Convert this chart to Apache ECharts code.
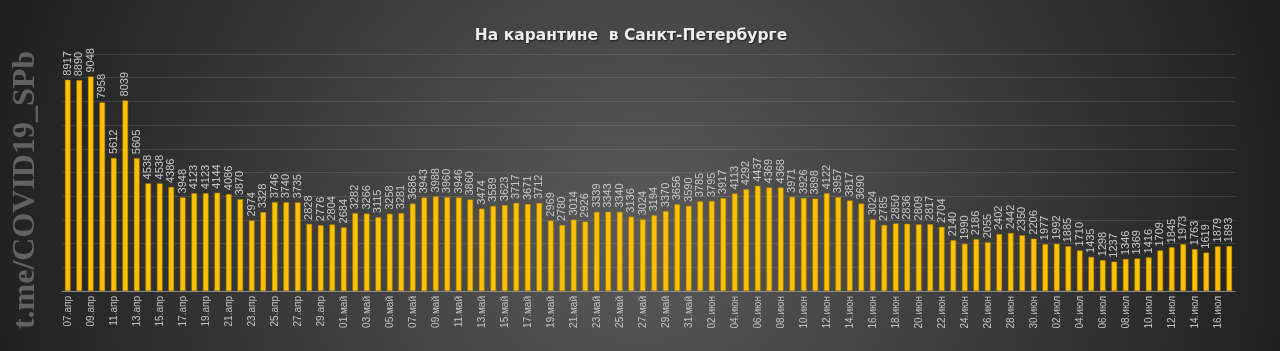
<!DOCTYPE html>
<html>
<head>
<meta charset="utf-8">
<script src="https://cdn.jsdelivr.net/npm/echarts@6/dist/echarts.min.js"></script>
<style>
  html, body { margin: 0; padding: 0; background: #2a2a2a; }
  #chart-container { width: 1280px; height: 351px; }
</style>
</head>
<body>
<div id="chart-container"></div>
<script>
var dom = document.getElementById('chart-container');
var myChart = echarts.init(dom, null, { renderer: 'canvas' });

var title = 'На карантине  в Санкт-Петербурге';
var watermark = 't.me/COVID19_SPb';

// months: [short name, first day, last day]
var months = [
    ['апр', 7, 30],
    ['май', 1, 31],
    ['июн', 1, 30],
    ['июл', 1, 17]
];

var aprValues = [8917, 8890, 9048, 7958, 5612, 8039, 5605, 4538, 4538, 4386, 3948, 4123,
    4123, 4144, 4086, 3870, 2974, 3328, 3746, 3740, 3735, 2828, 2776, 2804];
var mayValues = [2684, 3282, 3266, 3115, 3258, 3281, 3686, 3943, 3988, 3960, 3946, 3860,
    3474, 3589, 3623, 3717, 3671, 3712, 2969, 2780, 3014, 2926, 3339, 3343, 3340, 3136,
    3024, 3194, 3370, 3656, 3590];
var junValues = [3785, 3795, 3917, 4113, 4292, 4437, 4369, 4368, 3971, 3926, 3898, 4122,
    3957, 3817, 3690, 3024, 2785, 2850, 2836, 2809, 2817, 2704, 2140, 1990, 2186, 2055,
    2402, 2442, 2350, 2206];
var julValues = [1977, 1992, 1885, 1710, 1435, 1298, 1237, 1346, 1369, 1416, 1709, 1845,
    1973, 1763, 1619, 1879, 1893];

var categories = [];
months.forEach(function (m) {
    for (var d = m[1]; d <= m[2]; d++) {
        categories.push((d < 10 ? '0' + d : '' + d) + '.' + m[0]);
    }
});
var values = aprValues.concat(mayValues, junValues, julValues);

var option = {
    backgroundColor: {
        type: 'radial', x: 0.5, y: 0.65, r: 1.9,
        colorStops: [
            { offset: 0, color: '#5a5a5a' },
            { offset: 0.55, color: '#3a3a3a' },
            { offset: 1, color: '#1f1f1f' }
        ]
    },
    title: {
        text: title,
        left: 626,
        top: 23,
        textAlign: 'center',
        textStyle: {
            color: '#ececec',
            fontFamily: 'DejaVu Sans',
            fontWeight: 'bold',
            fontSize: 15.5,
            textShadowColor: 'rgba(0,0,0,0.6)',
            textShadowBlur: 2,
            textShadowOffsetX: 1,
            textShadowOffsetY: 1
        }
    },
    graphic: [{
        type: 'text',
        x: 26,
        y: 190,
        rotation: Math.PI / 2,
        style: {
            text: watermark,
            fill: '#626262',
            font: 'bold 32px "Liberation Serif"',
            align: 'center',
            verticalAlign: 'middle'
        }
    }],
    grid: { left: 62, right: 45, top: 54, bottom: 60 },
    xAxis: {
        type: 'category',
        data: categories,
        axisLine: { lineStyle: { color: '#8a8a8a' } },
        axisTick: { interval: 1, lineStyle: { color: '#8a8a8a' } },
        axisLabel: {
            interval: 1,
            rotate: 90,
            color: '#c4c4c4',
            fontFamily: 'Liberation Sans',
            fontSize: 10,
            margin: 5
        }
    },
    yAxis: {
        type: 'value',
        min: 0,
        max: 10000,
        interval: 1000,
        axisLabel: { show: false },
        axisLine: { show: false },
        axisTick: { show: false },
        splitLine: { lineStyle: { color: 'rgba(255,255,255,0.11)', width: 1 } }
    },
    series: [{
        type: 'bar',
        data: values,
        barWidth: '48%',
        itemStyle: { color: '#ffc000', borderColor: '#b88a00', borderWidth: 0.5 },
        label: {
            show: true,
            position: 'top',
            rotate: 90,
            align: 'left',
            verticalAlign: 'middle',
            distance: 4,
            color: '#c8c8c8',
            fontFamily: 'Liberation Sans',
            fontSize: 11
        }
    }]
};

myChart.setOption(option);
window.addEventListener('resize', myChart.resize);
</script>
</body>
</html>
